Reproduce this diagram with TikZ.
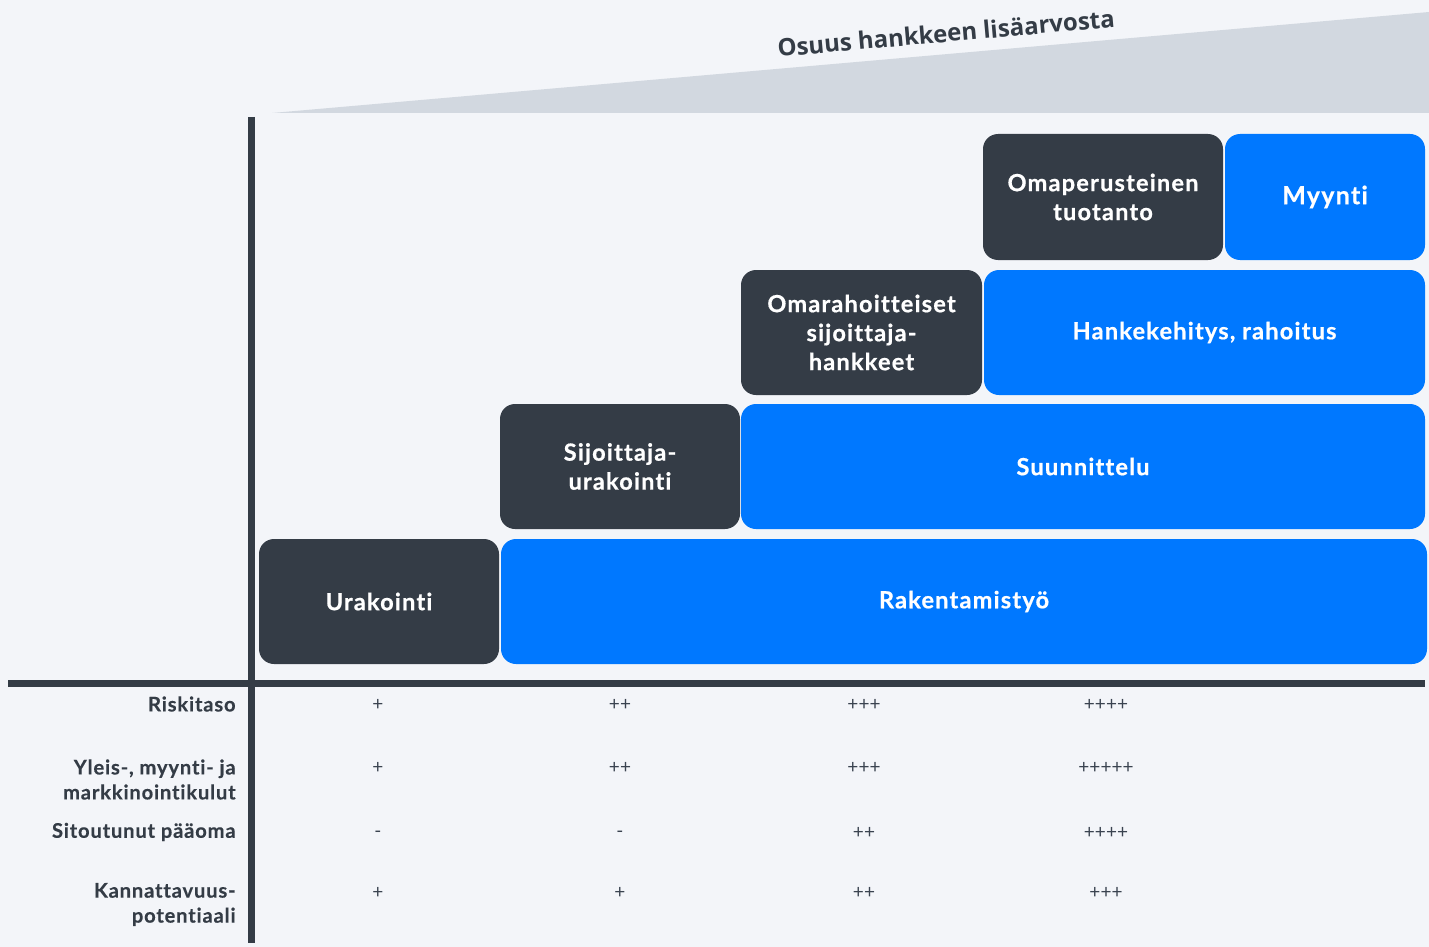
\documentclass[tikz,border=0pt]{standalone}
\usepackage{fontspec}
\setmainfont{Lato}
\newfontfamily\titlefont{Open Sans}
\newfontfamily\boxfont[LetterSpace=5,FakeBold=0.6,Ligatures={NoCommon}]{Lato}
\newfontfamily\labfont[LetterSpace=4,FakeBold=0.3,Ligatures={NoCommon}]{Lato}
\definecolor{bgc}{HTML}{F3F5F9}
\definecolor{wedgec}{HTML}{D2D8E0}
\definecolor{darkc}{HTML}{343C46}
\definecolor{bluec}{HTML}{0078FF}
\definecolor{plusc}{HTML}{3A4350}
\tikzset{
  box/.style={rectangle, rounded corners=7.5pt, inner sep=0pt, align=center,
     text=white, font=\boxfont\fontsize{11.8}{14.5}\selectfont\bfseries, minimum height=62.5pt},
  darkbox/.style={box, fill=darkc},
  bluebox/.style={box, fill=bluec},
  rowlabel/.style={anchor=east, align=right, text=darkc, inner sep=0pt,
     font=\labfont\fontsize{10.1}{12.5}\selectfont\bfseries},
  val/.style={text=plusc, inner sep=0pt, font=\fontsize{9.5}{10}\selectfont},
  axis/.style={draw=darkc, line width=3.3pt}
}
\begin{document}
\begin{tikzpicture}[x=0.5pt,y=-0.5pt]
\useasboundingbox (0,0) rectangle (1429,947);
\fill[bgc] (0,0) rectangle (1429,947);
% wedge
\fill[wedgec] (272,113) -- (1429,12) -- (1429,113) -- cycle;
\node[rotate=5, text=darkc, inner sep=0pt, font=\titlefont\fontsize{12}{14}\selectfont\bfseries] (title) at (946,33) {Osuus hankkeen lisäarvosta};
% axes
\coordinate (vtop) at (251.5,117);
\coordinate (vbot) at (251.5,943);
\coordinate (hl) at (8,683.5);
\coordinate (hr) at (1425,683.5);
\draw[axis] (vtop) -- (vbot);
\draw[axis] (hl) -- (hr);
% boxes
\node[darkbox, minimum width=120pt] (urak) at (379,601.5) {Urakointi};
\node[bluebox, minimum width=463pt] (rak) at (964,601.5) {Rakentamistyö};
\node[darkbox, minimum width=120pt] (sij) at (620,466.5) {Sijoittaja-\\urakointi};
\node[bluebox, minimum width=342pt] (suun) at (1083,466.5) {Suunnittelu};
\node[darkbox, minimum width=120.5pt] (omar) at (861.5,332.5) {Omarahoitteiset\\sijoittaja-\\hankkeet};
\node[bluebox, minimum width=220.5pt] (hank) at (1204.5,332.5) {Hankekehitys, rahoitus};
\node[darkbox, minimum width=120pt, minimum height=63pt] (omap) at (1103,197) {Omaperusteinen\\tuotanto};
\node[bluebox, minimum width=100pt, minimum height=63pt, font=\boxfont\fontsize{12.5}{14.5}\selectfont\bfseries] (myy) at (1325,197) {Myynti};
% row labels
\node[rowlabel] (r1) at (236,704) {Riskitaso};
\node[rowlabel] (r2) at (236,779.5) {Yleis-, myynti- ja\\markkinointikulut};
\node[rowlabel] (r3) at (236,832) {Sitoutunut pääoma};
\node[rowlabel] (r4) at (236,904.5) {Kannattavuus-\\potentiaali};
% values
\node[val] (v11) at (378,705) {+};
\node[val] (v12) at (620,705) {++};
\node[val] (v13) at (864,705) {+++};
\node[val] (v14) at (1106,705) {++++};
\node[val] (v21) at (378,768) {+};
\node[val] (v22) at (620,768) {++};
\node[val] (v23) at (864,768) {+++};
\node[val] (v24) at (1106,768) {+++++};
\node[val] (v31) at (378,834) {-};
\node[val] (v32) at (620,834) {-};
\node[val] (v33) at (864,833) {++};
\node[val] (v34) at (1106,833) {++++};
\node[val] (v41) at (378,893) {+};
\node[val] (v42) at (620,893) {+};
\node[val] (v43) at (864,893) {++};
\node[val] (v44) at (1106,893) {+++};
\end{tikzpicture}
\end{document}
